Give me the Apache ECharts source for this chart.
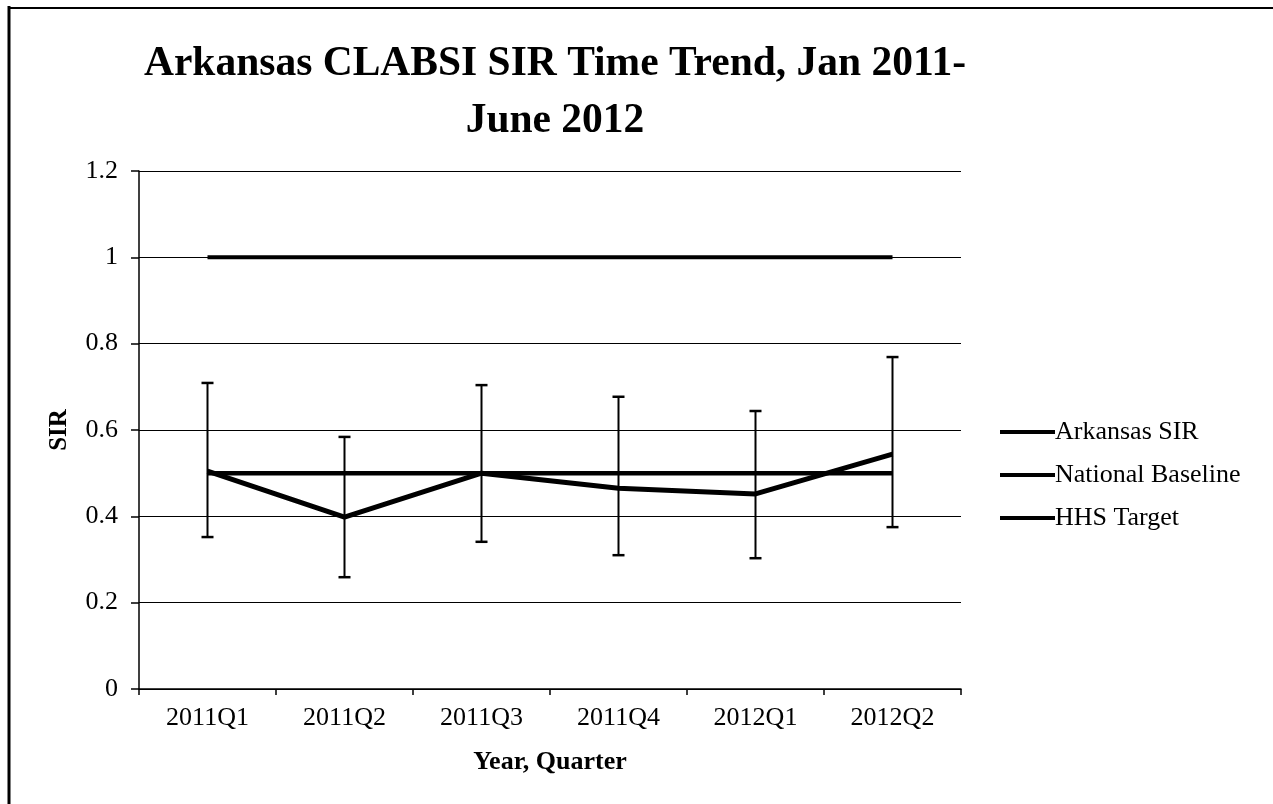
<!DOCTYPE html>
<html>
<head>
<meta charset="utf-8">
<script src="https://cdn.jsdelivr.net/npm/echarts@6/dist/echarts.min.js"></script>
<style>
html,body{margin:0;padding:0;background:#fff;}
#chart{width:1273px;height:804px;}
</style>
</head>
<body>
<div id="chart"></div>
<script>
const categories = ['2011Q1','2011Q2','2011Q3','2011Q4','2012Q1','2012Q2'];
const arkansasSIR = [0.505, 0.398, 0.500, 0.465, 0.452, 0.544];
const ciLower = [0.352, 0.259, 0.341, 0.310, 0.303, 0.375];
const ciUpper = [0.709, 0.584, 0.704, 0.677, 0.644, 0.769];
const nationalBaseline = [1, 1, 1, 1, 1, 1];
const hhsTarget = [0.5, 0.5, 0.5, 0.5, 0.5, 0.5];
const yTicks = { min: 0, max: 1.2, interval: 0.2 };

const FONT = '"Liberation Serif", "Times New Roman", serif';
const chart = echarts.init(document.getElementById('chart'));

const errData = categories.map((c, i) => [i, ciLower[i], ciUpper[i]]);

chart.setOption({
  animation: false,
  backgroundColor: '#fff',
  title: {
    text: 'Arkansas CLABSI SIR Time Trend, Jan 2011-\nJune 2012',
    left: 550,
    top: 31,
    textAlign: 'center',
    textStyle: {
      fontFamily: FONT, fontSize: 41.5, fontWeight: 'bold', color: '#000', lineHeight: 57
    }
  },
  legend: {
    orient: 'vertical',
    left: 995,
    top: 414,
    itemWidth: 55,
    itemHeight: 4,
    itemGap: 17,
    icon: 'rect',
    data: ['Arkansas SIR', 'National Baseline', 'HHS Target'],
    textStyle: { fontFamily: FONT, fontSize: 26, color: '#000', padding: [0,0,0,-5] }
  },
  grid: { left: 139, right: 1273 - 961, top: 171, bottom: 804 - 689, containLabel: false },
  xAxis: {
    type: 'category',
    data: categories,
    boundaryGap: true,
    axisLine: { lineStyle: { color: '#000', width: 1.5 } },
    axisTick: { show: true, inside: false, length: 6, alignWithLabel: false, lineStyle: { color: '#000', width: 1.5 } },
    axisLabel: { fontFamily: FONT, fontSize: 26, color: '#000', margin: 16 },
    name: 'Year, Quarter',
    nameLocation: 'middle',
    nameGap: 60,
    nameTextStyle: { fontFamily: FONT, fontSize: 26, fontWeight: 'bold', color: '#000' },
    splitLine: { show: false }
  },
  yAxis: {
    type: 'value',
    min: yTicks.min, max: yTicks.max, interval: yTicks.interval,
    axisLine: { show: true, lineStyle: { color: '#000', width: 1.5 } },
    axisTick: { show: true, inside: false, length: 8, lineStyle: { color: '#000', width: 1.5 } },
    axisLabel: { fontFamily: FONT, fontSize: 26, color: '#000', margin: 21 },
    splitLine: { show: true, lineStyle: { color: '#000', width: 1.2 } },
    name: 'SIR',
    nameLocation: 'middle',
    nameGap: 67,
    nameTextStyle: { fontFamily: FONT, fontSize: 25, fontWeight: 'bold', color: '#000' }
  },
  series: [
    {
      name: 'National Baseline', type: 'line', data: nationalBaseline,
      symbol: 'none', lineStyle: { color: '#000', width: 4 }, itemStyle: { color: '#000' }, z: 3
    },
    {
      name: 'HHS Target', type: 'line', data: hhsTarget,
      symbol: 'none', lineStyle: { color: '#000', width: 4.5 }, itemStyle: { color: '#000' }, z: 3
    },
    {
      name: 'Arkansas SIR', type: 'line', data: arkansasSIR,
      symbol: 'none', lineStyle: { color: '#000', width: 5 }, itemStyle: { color: '#000' }, z: 4
    },
    {
      name: 'CI', type: 'custom', data: errData, z: 5,
      renderItem: function (params, api) {
        const x = api.value(0);
        const lo = api.coord([x, api.value(1)]);
        const hi = api.coord([x, api.value(2)]);
        const cap = 6;
        const style = { stroke: '#000', lineWidth: 2 };
        return {
          type: 'group',
          children: [
            { type: 'line', shape: { x1: hi[0], y1: hi[1], x2: lo[0], y2: lo[1] }, style: style },
            { type: 'line', shape: { x1: hi[0] - cap, y1: hi[1], x2: hi[0] + cap, y2: hi[1] }, style: { stroke: '#000', lineWidth: 2.5 } },
            { type: 'line', shape: { x1: lo[0] - cap, y1: lo[1], x2: lo[0] + cap, y2: lo[1] }, style: { stroke: '#000', lineWidth: 2.5 } }
          ]
        };
      }
    }
  ],
  graphic: [
    { type: 'line', shape: { x1: 9, y1: 8, x2: 1273, y2: 8 }, style: { stroke: '#000', lineWidth: 2 } },
    { type: 'line', shape: { x1: 9, y1: 6, x2: 9, y2: 804 }, style: { stroke: '#000', lineWidth: 3 } }
  ]
});
</script>
</body>
</html>
